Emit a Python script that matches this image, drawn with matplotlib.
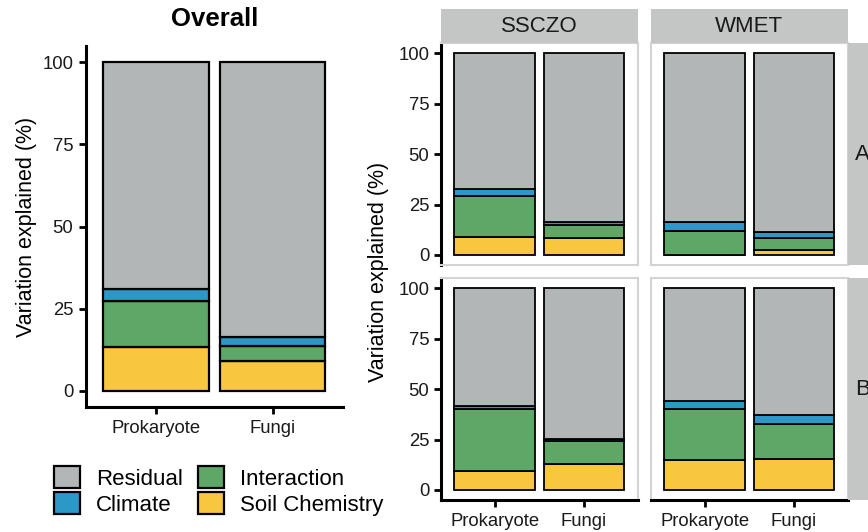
import matplotlib
matplotlib.use('Agg')
import matplotlib.pyplot as plt
from matplotlib.patches import Rectangle

plt.rcParams['font.family'] = ['Liberation Sans', 'DejaVu Sans']

# %% data (percent of variation explained)
groups = ['Prokaryote', 'Fungi']
components = ['Soil Chemistry', 'Interaction', 'Climate', 'Residual']
colors = {'Residual': '#B3B6B7', 'Climate': '#2C98C8',
          'Interaction': '#5DA767', 'Soil Chemistry': '#F8C73E'}

overall_soil = [13.2, 9.1]
overall_inter = [14.0, 4.4]
overall_clim = [3.8, 2.8]
overall_resid = [69.0, 83.7]

ssczo_a_soil = [9.1, 8.6]
ssczo_a_inter = [20.3, 6.0]
ssczo_a_clim = [3.4, 1.8]
ssczo_a_resid = [67.2, 83.6]

wmet_a_soil = [0.0, 2.6]
wmet_a_inter = [12.1, 6.0]
wmet_a_clim = [4.2, 2.8]
wmet_a_resid = [83.7, 88.6]

ssczo_b_soil = [9.2, 12.7]
ssczo_b_inter = [30.8, 11.8]
ssczo_b_clim = [1.7, 0.7]
ssczo_b_resid = [58.3, 74.8]

wmet_b_soil = [15.0, 15.2]
wmet_b_inter = [25.3, 17.6]
wmet_b_clim = [3.7, 4.4]
wmet_b_resid = [56.0, 62.8]

sites = ['SSCZO', 'WMET']
rows = ['A', 'B']
facets = {
    ('SSCZO', 'A'): [ssczo_a_soil, ssczo_a_inter, ssczo_a_clim, ssczo_a_resid],
    ('WMET', 'A'): [wmet_a_soil, wmet_a_inter, wmet_a_clim, wmet_a_resid],
    ('SSCZO', 'B'): [ssczo_b_soil, ssczo_b_inter, ssczo_b_clim, ssczo_b_resid],
    ('WMET', 'B'): [wmet_b_soil, wmet_b_inter, wmet_b_clim, wmet_b_resid],
}

W, H = 868, 532
fig = plt.figure(figsize=(W / 100, H / 100), dpi=100)


def px_axes(l, t, r, b):
    return fig.add_axes([l / W, 1 - b / H, (r - l) / W, (b - t) / H])


def stack(ax, series, lw):
    x = [1, 2]
    bottom = [0, 0]
    handles = []
    for name, vals in zip(components, series):
        h = ax.bar(x, vals, width=0.9, bottom=bottom, color=colors[name],
                   edgecolor='black', linewidth=lw, label=name)
        handles.append(h)
        bottom = [b + v for b, v in zip(bottom, vals)]
    ax.set_xlim(0.4, 2.6)
    ax.set_ylim(-5, 105)
    ax.set_yticks([0, 25, 50, 75, 100])
    ax.set_xticks([1, 2])
    return handles


tick_col = '#1a1a1a'

# %% overall panel
ax0 = px_axes(85.7, 45.7, 343, 407.3)
hs = stack(ax0, [overall_soil, overall_inter, overall_clim, overall_resid], 1.6)
ax0.set_xticklabels(groups)
for s in ['top', 'right']:
    ax0.spines[s].set_visible(False)
for s in ['left', 'bottom']:
    ax0.spines[s].set_linewidth(2.2)
ax0.tick_params(width=2, length=5, labelsize=13.3, colors='black',
                labelcolor=tick_col, pad=4)
ax0.set_ylabel('Variation explained (%)', fontsize=15.5, labelpad=4)
ax0.set_title('Overall', fontsize=18.5, fontweight='bold', pad=14)

# %% facet panels
col_x = {'SSCZO': (441, 637.7), 'WMET': (651, 847.7)}
row_y = {'A': (43.3, 265), 'B': (278.3, 500)}
strip_bg = '#C4C5C5'

for (site, row), series in facets.items():
    l, r = col_x[site]
    t, b = row_y[row]
    ax = px_axes(l, t, r, b)
    stack(ax, series, 1.3)
    for s in ax.spines.values():
        s.set_color('#D3D3D3')
        s.set_linewidth(1.5)
    first_col = site == sites[0]
    last_row = row == rows[-1]
    if first_col:
        ax.spines['left'].set_color('black')
        ax.spines['left'].set_linewidth(2.2)
    if last_row:
        ax.spines['bottom'].set_color('black')
        ax.spines['bottom'].set_linewidth(2.2)
    ax.tick_params(axis='y', left=first_col, labelleft=first_col, width=2,
                   length=5, labelsize=13.3, labelcolor=tick_col)
    ax.tick_params(axis='x', bottom=last_row, labelbottom=last_row, width=2,
                   length=5, labelsize=13.3, labelcolor=tick_col, pad=4)
    ax.set_xticklabels(groups)

# strips on top
for site in sites:
    l, r = col_x[site]
    fig.patches.append(Rectangle((l / W, 1 - 43.3 / H), (r - l) / W, 34.3 / H,
                                 transform=fig.transFigure, facecolor=strip_bg,
                                 edgecolor='none', zorder=0))
    fig.text((l + r) / 2 / W, 1 - 26.5 / H, site, ha='center', va='center',
             fontsize=16, color=tick_col)

# strips on the right (cut by the figure edge, as in the original)
for row in rows:
    t, b = row_y[row]
    fig.patches.append(Rectangle((847.7 / W, 1 - b / H), 30 / W, (b - t) / H,
                                 transform=fig.transFigure, facecolor=strip_bg,
                                 edgecolor='none', zorder=0))
    fig.text(862.7 / W, 1 - (t + b) / 2 / H, row, ha='center', va='center',
             fontsize=16, color=tick_col)

fig.text(378.5 / W, 1 - 271.6 / H, 'Variation explained (%)', rotation=90,
         ha='center', va='center', fontsize=15.5)

# %% legend
order = [3, 2, 1, 0]
leg = fig.legend([hs[i] for i in order], [components[i] for i in order],
                 ncol=2, loc='upper left', bbox_to_anchor=(50 / W, 1 - 462 / H),
                 frameon=False, fontsize=16, handlelength=1.17,
                 handleheight=1.1, handletextpad=0.7, columnspacing=0.7,
                 labelspacing=0.12, borderpad=0.2, borderaxespad=0)

fig.savefig('out.png', dpi=100)
